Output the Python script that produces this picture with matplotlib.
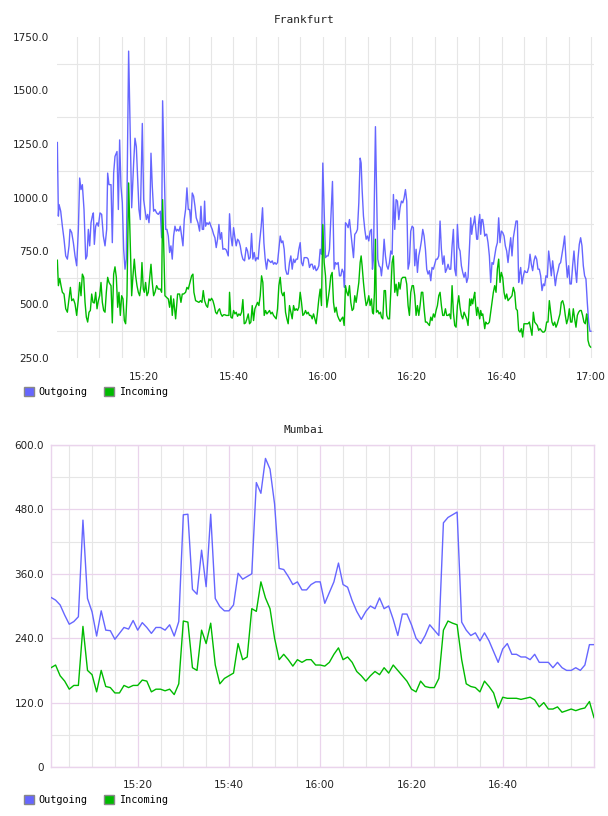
import matplotlib
matplotlib.use("Agg")
import matplotlib.pyplot as plt
from matplotlib.patches import Patch
import numpy as np

# ---- Frankfurt: (minutes after 15:00, value) ----
fra_out_pts = [
    (0.63, 1257), (0.86, 913), (1.01, 967), (1.38, 936), (1.75, 866), (2.12, 805), (2.50, 727),
    (2.87, 712), (3.24, 774), (3.46, 851), (3.84, 836), (4.21, 789), (4.58, 727), (4.95, 681),
    (5.33, 851), (5.62, 1091), (5.92, 1037), (6.22, 1060), (6.59, 944), (6.97, 712), (7.26, 727),
    (7.56, 851), (7.86, 774), (8.16, 882), (8.45, 913), (8.68, 928), (8.90, 781), (9.20, 866),
    (9.50, 882), (9.80, 866), (10.17, 928), (10.54, 921), (10.91, 820), (11.29, 774), (11.66, 851),
    (11.88, 1114), (12.18, 1060), (12.63, 1060), (12.92, 789), (13.22, 1114), (13.52, 1192),
    (13.82, 1207), (13.97, 1215), (14.27, 944), (14.56, 1269), (14.86, 1052), (15.16, 975),
    (15.46, 758), (15.76, 665), (16.05, 712), (16.57, 1684), (17.25, 952), (17.69, 1161),
    (17.99, 1277), (18.29, 1238), (18.59, 1083), (18.88, 944), (19.18, 897), (19.63, 1346),
    (19.93, 990), (20.22, 944), (20.52, 897), (20.82, 921), (21.12, 882), (21.34, 944),
    (21.57, 1207), (21.86, 1052), (22.16, 936), (22.46, 944), (22.83, 928), (23.20, 921),
    (23.65, 936), (23.95, 812), (24.17, 1452), (24.84, 851), (25.14, 851), (25.44, 820),
    (25.74, 743), (26.03, 774), (26.33, 712), (26.63, 820), (26.93, 866), (27.23, 843),
    (27.52, 851), (27.82, 843), (28.12, 866), (28.42, 820), (28.72, 774), (29.01, 897),
    (29.31, 944), (29.61, 1045), (29.91, 944), (30.21, 944), (30.50, 882), (30.80, 1021),
    (31.10, 1006), (31.40, 960), (31.69, 905), (32.07, 882), (32.44, 843), (32.74, 959),
    (33.04, 851), (33.33, 851), (33.56, 983), (33.78, 866), (34.08, 882), (34.38, 874),
    (34.67, 885), (34.97, 866), (35.27, 851), (35.57, 828), (35.87, 812), (36.16, 766),
    (36.46, 805), (36.76, 874), (37.06, 805), (37.36, 836), (37.65, 758), (38.03, 761),
    (38.40, 755), (38.85, 727), (39.14, 924), (39.44, 820), (39.74, 774), (40.04, 859),
    (40.34, 812), (40.63, 774), (40.93, 805), (41.23, 797), (41.53, 774), (41.83, 735),
    (42.12, 712), (42.50, 704), (42.87, 766), (43.17, 750), (43.46, 712), (43.76, 719),
    (44.06, 832), (44.36, 712), (44.66, 743), (44.95, 704), (45.25, 719), (45.55, 712),
    (45.85, 789), (46.22, 866), (46.52, 952), (46.82, 789), (47.11, 712), (47.41, 665),
    (47.71, 712), (48.01, 704), (48.38, 696), (48.68, 704), (48.98, 688), (49.28, 696),
    (49.57, 688), (49.87, 696), (50.17, 758), (50.47, 820), (50.77, 789), (51.06, 797),
    (51.36, 758), (51.66, 665), (51.96, 642), (52.25, 642), (52.55, 696), (52.85, 727),
    (53.15, 665), (53.45, 712), (53.74, 696), (54.04, 712), (54.34, 712), (54.64, 758),
    (54.94, 789), (55.23, 696), (55.53, 681), (55.83, 719), (56.13, 719), (56.43, 719),
    (56.72, 712), (57.02, 673), (57.32, 688), (57.62, 688), (57.92, 665), (58.21, 681),
    (58.51, 658), (58.81, 665), (59.11, 681), (59.41, 758), (59.70, 735), (60.00, 1161),
    (60.60, 719), (60.90, 727), (61.19, 727), (61.49, 758), (62.16, 1075), (62.53, 665),
    (62.83, 696), (63.13, 688), (63.43, 696), (63.73, 634), (64.02, 634), (64.32, 665),
    (64.62, 650), (64.84, 580), (65.07, 882), (65.37, 874), (65.66, 859), (65.96, 897),
    (66.26, 836), (66.56, 774), (66.86, 719), (67.15, 828), (67.45, 836), (67.75, 851),
    (68.05, 975), (68.35, 1184), (68.57, 1161), (68.79, 1037), (69.09, 913), (69.39, 851),
    (69.69, 805), (69.98, 820), (70.28, 797), (70.58, 843), (70.88, 851), (71.10, 665),
    (71.32, 712), (71.77, 1331), (72.29, 712), (72.59, 681), (72.89, 673), (73.11, 634),
    (73.41, 696), (73.71, 805), (74.01, 727), (74.30, 681), (74.60, 665), (74.90, 696),
    (75.20, 750), (75.50, 735), (75.79, 1014), (76.09, 851), (76.39, 990), (76.69, 983),
    (76.99, 897), (77.28, 952), (77.58, 983), (77.88, 975), (78.18, 998), (78.48, 1037),
    (78.77, 983), (79.07, 665), (79.37, 696), (79.67, 843), (79.97, 866), (80.26, 859),
    (80.56, 681), (80.86, 758), (81.16, 650), (81.46, 727), (81.75, 758), (82.05, 797),
    (82.35, 851), (82.65, 820), (82.95, 758), (83.24, 665), (83.54, 642), (83.84, 658),
    (84.14, 611), (84.43, 673), (84.73, 665), (85.03, 688), (85.33, 712), (85.63, 712),
    (85.93, 727), (86.22, 890), (86.52, 758), (86.82, 688), (87.12, 727), (87.42, 650),
    (87.71, 665), (88.01, 688), (88.31, 665), (88.61, 665), (88.91, 774), (89.20, 851),
    (89.50, 665), (89.80, 634), (90.10, 874), (90.40, 766), (90.69, 750), (90.99, 681),
    (91.29, 650), (91.59, 627), (91.88, 650), (92.18, 603), (92.48, 627), (92.85, 789),
    (93.08, 905), (93.30, 828), (93.52, 866), (93.75, 882), (93.97, 913), (94.19, 859),
    (94.42, 805), (94.64, 805), (94.86, 882), (95.09, 921), (95.31, 828), (95.54, 897),
    (95.76, 897), (95.98, 866), (96.21, 820), (96.43, 828), (96.65, 828), (96.95, 789),
    (97.25, 727), (97.55, 603), (97.84, 696), (98.14, 688), (98.44, 727), (98.74, 766),
    (99.04, 789), (99.33, 905), (99.63, 789), (99.93, 843), (100.23, 836), (100.53, 820),
    (100.82, 774), (101.12, 750), (101.42, 696), (101.72, 758), (102.02, 812), (102.31, 727),
    (102.61, 812), (102.91, 851), (103.21, 890), (103.51, 890), (103.80, 603), (103.95, 634),
    (104.25, 673), (104.55, 596), (104.85, 634), (105.14, 658), (105.44, 650), (105.74, 650),
    (106.04, 673), (106.34, 735), (106.63, 688), (106.93, 658), (107.23, 704), (107.53, 727),
    (107.83, 712), (108.12, 665), (108.42, 665), (108.72, 634), (109.02, 565), (109.32, 596),
    (109.61, 588), (109.91, 634), (110.21, 627), (110.51, 750), (110.81, 696), (111.10, 634),
    (111.40, 704), (111.70, 650), (112.00, 588), (112.30, 634), (112.59, 658), (112.89, 688),
    (113.19, 696), (113.49, 735), (113.79, 774), (114.08, 820), (114.38, 712), (114.68, 627),
    (114.98, 681), (115.28, 596), (115.57, 596), (115.87, 681), (116.17, 750), (116.47, 665),
    (116.77, 603), (117.06, 712), (117.36, 781), (117.66, 812), (117.96, 774), (118.26, 681),
    (118.55, 634), (118.85, 619), (119.15, 510), (119.45, 418), (119.74, 375), (119.97, 375),
]

fra_in_pts = [
    (0.63, 707), (0.86, 588), (1.16, 622), (1.45, 588), (1.75, 557), (2.12, 549), (2.50, 480),
    (2.87, 464), (3.24, 526), (3.54, 580), (3.84, 518), (4.21, 526), (4.58, 503), (4.95, 449),
    (5.33, 526), (5.62, 603), (5.92, 541), (6.22, 642), (6.52, 627), (6.82, 510), (7.11, 441),
    (7.41, 418), (7.71, 464), (8.01, 472), (8.31, 549), (8.60, 510), (8.90, 507), (9.20, 557),
    (9.50, 480), (9.80, 518), (10.09, 541), (10.39, 603), (10.69, 510), (10.99, 472),
    (11.29, 464), (11.58, 557), (11.88, 627), (12.18, 603), (12.63, 588), (12.92, 414),
    (13.22, 642), (13.52, 676), (13.82, 627), (14.12, 487), (14.41, 557), (14.71, 449),
    (15.01, 541), (15.31, 526), (15.61, 425), (15.90, 410), (16.20, 541), (16.57, 1068),
    (17.25, 541), (17.54, 634), (17.84, 712), (18.14, 634), (18.44, 588), (18.74, 557),
    (19.03, 541), (19.33, 588), (19.55, 696), (19.85, 572), (20.08, 557), (20.37, 603),
    (20.67, 541), (20.97, 557), (21.57, 688), (21.86, 603), (22.16, 541), (22.46, 557),
    (22.83, 588), (23.20, 572), (23.65, 572), (23.95, 557), (24.17, 990), (24.69, 541),
    (25.07, 533), (25.44, 526), (25.74, 487), (26.03, 541), (26.33, 449), (26.63, 526),
    (27.08, 433), (27.52, 549), (27.97, 549), (28.27, 510), (28.57, 549), (28.87, 549),
    (29.31, 557), (29.61, 580), (29.91, 572), (30.21, 596), (30.66, 634), (30.95, 642),
    (31.17, 557), (31.55, 518), (31.92, 514), (32.29, 510), (32.66, 518), (32.96, 510),
    (33.26, 565), (33.56, 518), (33.93, 495), (34.23, 487), (34.53, 526), (34.82, 518),
    (35.12, 529), (35.42, 518), (35.72, 495), (36.02, 464), (36.31, 456), (36.61, 472),
    (36.91, 480), (37.21, 456), (37.51, 445), (37.80, 452), (38.10, 452), (38.40, 449),
    (38.70, 449), (39.00, 449), (39.14, 557), (39.44, 441), (39.74, 436), (40.04, 472),
    (40.34, 456), (40.63, 464), (40.93, 445), (41.23, 456), (41.53, 449), (41.83, 464),
    (42.12, 523), (42.42, 410), (42.72, 414), (43.02, 433), (43.32, 456), (43.61, 410),
    (43.91, 418), (44.21, 495), (44.51, 425), (44.81, 480), (45.10, 495), (45.40, 510),
    (45.70, 495), (46.00, 541), (46.30, 634), (46.59, 603), (46.89, 449), (47.19, 472),
    (47.49, 456), (47.79, 464), (48.08, 472), (48.38, 456), (48.68, 464), (48.98, 449),
    (49.28, 441), (49.57, 433), (49.87, 480), (50.17, 588), (50.47, 627), (50.77, 557),
    (51.06, 541), (51.36, 557), (51.66, 464), (51.96, 433), (52.25, 410), (52.55, 495),
    (52.85, 464), (53.15, 433), (53.45, 495), (53.74, 472), (54.04, 480), (54.34, 472),
    (54.64, 487), (54.94, 557), (55.23, 510), (55.53, 449), (55.83, 456), (56.13, 472),
    (56.43, 456), (56.72, 464), (57.02, 449), (57.32, 449), (57.62, 433), (57.92, 456),
    (58.21, 433), (58.51, 410), (58.81, 464), (59.11, 526), (59.41, 572), (59.70, 495),
    (60.00, 874), (60.30, 696), (60.60, 634), (60.90, 487), (61.19, 526), (61.49, 572),
    (61.79, 634), (62.09, 650), (62.39, 510), (62.68, 464), (62.98, 487), (63.28, 449),
    (63.58, 433), (63.88, 421), (64.17, 433), (64.47, 441), (64.77, 402), (65.07, 588),
    (65.37, 557), (65.66, 541), (65.96, 588), (66.26, 510), (66.56, 472), (66.86, 480),
    (67.15, 541), (67.45, 510), (67.75, 557), (68.05, 603), (68.35, 696), (68.57, 727),
    (68.79, 681), (69.09, 603), (69.39, 541), (69.69, 495), (69.98, 510), (70.28, 541),
    (70.58, 495), (70.88, 526), (71.10, 464), (71.32, 456), (71.55, 557), (71.77, 805),
    (71.99, 464), (72.29, 472), (72.59, 456), (72.89, 464), (73.11, 441), (73.41, 433),
    (73.71, 565), (74.01, 565), (74.30, 449), (74.60, 433), (74.90, 433), (75.20, 557),
    (75.50, 696), (75.79, 727), (76.09, 557), (76.39, 595), (76.69, 541), (76.99, 603),
    (77.28, 572), (77.58, 619), (77.88, 627), (78.18, 627), (78.48, 627), (78.77, 595),
    (79.07, 495), (79.37, 449), (79.67, 557), (79.97, 588), (80.26, 588), (80.56, 541),
    (80.86, 449), (81.16, 495), (81.46, 449), (81.75, 495), (82.05, 557), (82.35, 557),
    (82.65, 480), (82.95, 418), (83.24, 418), (83.54, 410), (83.84, 402), (84.14, 441),
    (84.43, 425), (84.73, 456), (85.03, 441), (85.33, 472), (85.63, 495), (85.93, 541),
    (86.22, 557), (86.52, 495), (86.82, 449), (87.12, 449), (87.42, 480), (87.71, 449),
    (88.01, 449), (88.31, 456), (88.61, 433), (88.91, 588), (89.20, 464), (89.50, 402),
    (89.80, 394), (90.10, 495), (90.40, 541), (90.69, 487), (90.99, 449), (91.29, 433),
    (91.59, 464), (91.88, 449), (92.18, 433), (92.48, 402), (92.85, 526), (93.08, 495),
    (93.30, 526), (93.52, 503), (93.75, 533), (93.97, 557), (94.19, 495), (94.42, 449),
    (94.64, 487), (94.86, 464), (95.09, 433), (95.31, 472), (95.54, 449), (95.76, 456),
    (95.98, 425), (96.21, 387), (96.43, 418), (96.65, 410), (96.95, 410), (97.25, 418),
    (97.55, 464), (97.84, 510), (98.14, 557), (98.44, 588), (98.74, 557), (99.04, 665),
    (99.33, 712), (99.63, 603), (99.93, 650), (100.23, 627), (100.53, 557), (100.82, 526),
    (101.12, 549), (101.42, 518), (101.72, 526), (102.02, 533), (102.31, 541), (102.61, 580),
    (102.91, 557), (103.21, 480), (103.51, 472), (103.80, 379), (104.10, 371), (104.40, 387),
    (104.70, 348), (104.99, 410), (105.29, 410), (105.59, 410), (105.89, 410), (106.19, 418),
    (106.49, 387), (106.78, 356), (107.08, 464), (107.38, 418), (107.68, 410), (107.98, 402),
    (108.28, 379), (108.57, 387), (108.87, 379), (109.17, 371), (109.47, 371), (109.76, 379),
    (110.06, 418), (110.36, 418), (110.66, 518), (110.96, 464), (111.25, 418), (111.55, 402),
    (111.85, 418), (112.15, 394), (112.45, 410), (112.74, 433), (113.04, 456), (113.34, 510),
    (113.64, 518), (113.94, 495), (114.23, 449), (114.53, 410), (114.83, 433), (115.13, 480),
    (115.43, 418), (115.72, 418), (116.02, 480), (116.32, 433), (116.62, 394), (116.92, 449),
    (117.21, 464), (117.51, 472), (117.81, 472), (118.10, 449), (118.40, 418), (118.70, 410),
    (119.00, 456), (119.15, 433), (119.30, 333), (119.60, 309), (119.89, 301),
]

# ---- Mumbai: one sample per minute, 15:01 .. 17:00 ----
mum_minutes = list(range(1, 121))
mum_out = [
    316, 311, 302, 283, 266, 271, 280, 460, 314, 289,
    244, 291, 255, 254, 238, 249, 260, 257, 273, 255,
    269, 260, 249, 260, 260, 255, 265, 244, 271, 470,
    471, 331, 322, 404, 336, 471, 314, 299, 291, 291,
    302, 361, 350, 355, 360, 530, 510, 575, 555, 490,
    370, 368, 355, 340, 345, 330, 330, 340, 345, 345,
    305, 325, 345, 380, 340, 335, 310, 290, 275, 290,
    300, 295, 315, 295, 300, 275, 245, 285, 285, 265,
    240, 230, 245, 265, 255, 245, 455, 465, 470, 475,
    270, 255, 245, 250, 235, 250, 235, 215, 195, 220,
    230, 210, 210, 205, 205, 200, 210, 195, 195, 195,
    185, 195, 185, 180, 180, 185, 180, 190, 228, 228,
]
mum_in = [
    185, 190, 170, 160, 145, 152, 152, 262, 180, 172,
    140, 180, 150, 148, 138, 138, 152, 148, 152, 152,
    162, 160, 140, 145, 145, 142, 145, 135, 155, 272,
    270, 185, 180, 255, 230, 268, 190, 155, 165, 170,
    175, 230, 200, 205, 295, 290, 345, 315, 295, 240,
    200, 210, 200, 188, 200, 195, 200, 200, 190, 190,
    188, 195, 210, 222, 200, 205, 195, 178, 170, 160,
    170, 178, 172, 185, 175, 190, 180, 170, 160, 145,
    140, 160, 150, 148, 148, 165, 255, 272, 268, 265,
    200, 155, 150, 148, 140, 160, 150, 138, 110, 130,
    128, 128, 128, 126, 128, 130, 125, 112, 120, 108,
    108, 112, 102, 105, 108, 105, 108, 110, 122, 92,
]

fra_yticks = [250, 500, 750, 1000, 1250, 1500, 1750]
mum_yticks = [0, 120, 240, 360, 480, 600]
time_ticks = [20, 40, 60, 80, 100, 120]
time_labels = ["15:20", "15:40", "16:00", "16:20", "16:40", "17:00"]

BLUE = "#6666ff"
GREEN = "#00bb00"
GRID = "#e6e6e6"
PINK = "#ead4ec"
TICK_FONT = dict(fontsize=7.5, color="#222222", family="DejaVu Sans")
MONO = "DejaVu Sans Mono"

fig = plt.figure(figsize=(6.08, 8.16), dpi=100)
W, H = 608, 816


def box(l, t, r, b):
    return [l / W, 1 - b / H, (r - l) / W, (b - t) / H]


# ---------------- Frankfurt ----------------
ax1 = fig.add_axes(box(57, 37, 594, 358))
t, v = zip(*fra_out_pts)
ax1.plot(t, v, color=BLUE, lw=1.0, zorder=3)
t, v = zip(*fra_in_pts)
ax1.plot(t, v, color=GREEN, lw=1.0, zorder=4)
ax1.set_xlim(0.55, 120.65)
ax1.set_ylim(250, 1750)
ax1.set_yticks(fra_yticks)
ax1.set_yticklabels([f"{y:.1f}" for y in fra_yticks], **TICK_FONT)
ax1.set_yticks([y + 125 for y in fra_yticks[:-1]], minor=True)
ax1.set_xticks(time_ticks)
ax1.set_xticklabels(time_labels, **TICK_FONT)
ax1.set_xticks(np.arange(5, 121, 5), minor=True)
ax1.tick_params(which="both", length=0)
ax1.tick_params(axis="y", pad=6)
ax1.tick_params(axis="x", pad=10)
ax1.grid(True, which="minor", axis="y", color=GRID, lw=0.8)
ax1.grid(True, which="both", axis="x", color=GRID, lw=0.8)
for s in ax1.spines.values():
    s.set_visible(False)
ax1.set_axisbelow(True)
fig.text(0.5, 1 - 20 / H, "Frankfurt", ha="center", va="center",
         fontsize=8, family=MONO, color="#222222")

# ---------------- Mumbai ----------------
ax2 = fig.add_axes(box(51, 445, 594, 767))
ax2.plot(mum_minutes, mum_out, color=BLUE, lw=1.0, zorder=3)
ax2.plot(mum_minutes, mum_in, color=GREEN, lw=1.0, zorder=4)
ax2.set_xlim(1, 120)
ax2.set_ylim(0, 600)
ax2.set_yticks(mum_yticks)
ax2.set_yticklabels(["0" if y == 0 else f"{y:.1f}" for y in mum_yticks], **TICK_FONT)
ax2.set_yticks([y + 60 for y in mum_yticks[:-1]], minor=True)
ax2.set_xticks(time_ticks[:-1])
ax2.set_xticklabels(time_labels[:-1], **TICK_FONT)
ax2.set_xticks([m for m in range(5, 120, 5) if m % 20], minor=True)
ax2.tick_params(which="both", length=0)
ax2.tick_params(axis="y", pad=5)
ax2.tick_params(axis="x", pad=9)
ax2.grid(True, which="major", color=PINK, lw=0.9)
ax2.grid(True, which="minor", color=GRID, lw=0.8)
for s in ax2.spines.values():
    s.set_color(PINK)
    s.set_linewidth(1.0)
ax2.set_axisbelow(True)
fig.text(0.5, 1 - 430 / H, "Mumbai", ha="center", va="center",
         fontsize=8, family=MONO, color="#222222")

# ---------------- legends ----------------
handles = [Patch(facecolor=BLUE, edgecolor="#888888", label="Outgoing"),
           Patch(facecolor=GREEN, edgecolor="#888888", label="Incoming")]
for ycen in (392, 800):
    fig.legend(handles=handles, loc="center left", bbox_to_anchor=(24 / W, 1 - ycen / H),
               ncol=2, frameon=False, handlelength=1.0, handleheight=1.0,
               handletextpad=0.45, columnspacing=1.6, borderpad=0, borderaxespad=0,
               prop={"family": MONO, "size": 7.3})

fig.savefig("out.png", dpi=100)
